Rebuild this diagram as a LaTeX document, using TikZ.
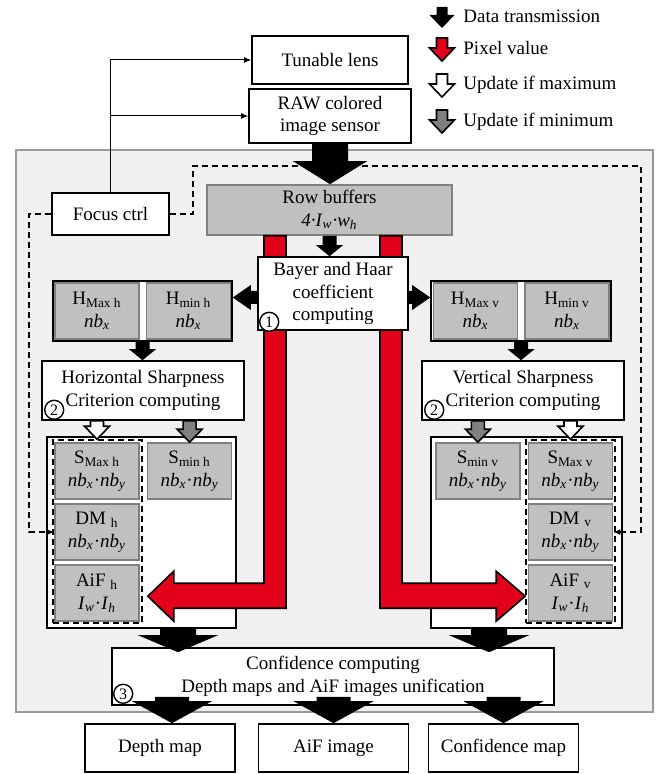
\documentclass[tikz,border=0pt]{standalone}
\usepackage{fontspec}
\setmainfont{Liberation Serif}
\usetikzlibrary{positioning,calc,arrows.meta}

\definecolor{panelgray}{RGB}{240,240,240}
\definecolor{memgray}{RGB}{192,192,192}
\definecolor{memborder}{RGB}{128,128,128}
\definecolor{pixelred}{RGB}{226,0,26}
\definecolor{mingray}{RGB}{128,128,128}

\newcommand{\nbx}{\textit{nb}\textsubscript{\textit{x}}}
\newcommand{\nby}{\textit{nb}\textsubscript{\textit{y}}}
% block arrows: style, from, to, stem half width, head half width, head length
\newcommand{\fatdown}[6]{%
  \path[#1] let \p1=(#2), \p2=(#3) in
    (\x1-#4,\y1) -- (\x1-#4,\y2+#6) -- (\x1-#5,\y2+#6) -- (\x1,\y2) --
    (\x1+#5,\y2+#6) -- (\x1+#4,\y2+#6) -- (\x1+#4,\y1) -- cycle;}
\newcommand{\fatleft}[6]{%
  \path[#1] let \p1=(#2), \p2=(#3) in
    (\x1,\y1-#4) -- (\x2+#6,\y1-#4) -- (\x2+#6,\y1-#5) -- (\x2,\y1) --
    (\x2+#6,\y1+#5) -- (\x2+#6,\y1+#4) -- (\x1,\y1+#4) -- cycle;}
\newcommand{\fatright}[6]{%
  \path[#1] let \p1=(#2), \p2=(#3) in
    (\x1,\y1-#4) -- (\x2-#6,\y1-#4) -- (\x2-#6,\y1-#5) -- (\x2,\y1) --
    (\x2-#6,\y1+#5) -- (\x2-#6,\y1+#4) -- (\x1,\y1+#4) -- cycle;}

\begin{document}
\begin{tikzpicture}[x=0.5pt, y=-0.5pt,
        blocknode/.style={rectangle, draw, fill=white, line width=0.8pt, align=center, inner sep=1pt, font=\fontsize{9.5}{11.25}\selectfont},
        memnode/.style={rectangle, draw=memborder, fill=memgray, line width=0.8pt, align=center, inner sep=0pt, minimum width=42pt, minimum height=28pt, font=\fontsize{9.5}{11.25}\selectfont},
        groupnode/.style={rectangle, draw, fill=white, line width=0.8pt, inner sep=0pt},
        dashnode/.style={rectangle, draw, dash pattern=on 3pt off 2pt, line width=0.8pt, inner sep=0pt, minimum width=44.5pt, minimum height=91.5pt},
        numnode/.style={circle, draw, line width=0.7pt, fill=white, inner sep=0pt, minimum size=9.5pt, font=\fontsize{8}{8}\selectfont},
        legendnode/.style={anchor=west, inner sep=0pt, font=\fontsize{9.5}{11.25}\selectfont},
        dataarrow/.style={fill=black},
        pixelarrow/.style={draw, fill=pixelred, line width=0.8pt},
        maxarrow/.style={draw, fill=white, line width=0.8pt},
        minarrow/.style={draw, fill=mingray, line width=0.8pt},
        ctrlline/.style={draw, line width=0.5pt, -{Latex[length=3.5pt,width=3pt]}},
        feedbackline/.style={draw, line width=0.8pt, dash pattern=on 3pt off 2pt, -{Latex[length=3.5pt,width=3pt]}},
        ]
        \useasboundingbox (0,0) rectangle (664,774);
        \draw[draw=gray!80, line width=0.6pt, fill=panelgray] (16,150) rectangle (653,712);

        %Nodes
        \node[blocknode, minimum width=78pt, minimum height=24pt] (lens) at (330,60) {Tunable lens};
        \node[blocknode, minimum width=81pt, minimum height=27pt] (sensor) at (330,116) {RAW colored\\image sensor};
        \node[blocknode, minimum width=58.5pt, minimum height=21pt] (focus) at (110.5,214) {Focus ctrl};
        \node[memnode, minimum width=122.5pt, minimum height=25pt] (rowbuf) at (329.5,210) {Row buffers\\\textit{4·I}\textsubscript{\textit{w}}\textit{·w}\textsubscript{\textit{h}}};

        \node[groupnode, minimum width=89.5pt, minimum height=30pt] (hleftgrp) at (142.5,311) {};
        \node[memnode] (hmaxh) at (97,311) {H\textsubscript{Max h}\\\nbx};
        \node[memnode] (hminh) [right=3pt of hmaxh] {H\textsubscript{min h}\\\nbx};
        \node[groupnode, minimum width=90pt, minimum height=30pt] (hrightgrp) at (521,311) {};
        \node[memnode] (hmaxv) at (475.5,311) {H\textsubscript{Max v}\\\nbx};
        \node[memnode] (hminv) [right=3pt of hmaxv] {H\textsubscript{min v}\\\nbx};

        \node[blocknode, minimum width=101pt, minimum height=29.5pt] (hsharp) at (143,390.5) {Horizontal Sharpness\\Criterion computing};
        \node[blocknode, minimum width=101pt, minimum height=29.5pt] (vsharp) at (523,390.5) {Vertical Sharpness\\Criterion computing};

        \node[groupnode, minimum width=94.5pt, minimum height=95.5pt] (sleftgrp) at (141.5,532.5) {};
        \node[dashnode] (hgroup) at (97.5,531.5) {};
        \node[memnode] (smaxh) at (97,471) {S\textsubscript{Max h}\\{\nbx}·{\nby}};
        \node[memnode] (dmh) [below=1.75pt of smaxh] {DM \textsubscript{h}\\{\nbx}·{\nby}};
        \node[memnode] (aifh) [below=1.75pt of dmh] {AiF \textsubscript{h}\\\textit{I}\textsubscript{\textit{w}}·\textit{I}\textsubscript{\textit{h}}};
        \node[memnode] (sminh) [right=3.5pt of smaxh] {S\textsubscript{min h}\\{\nbx}·{\nby}};

        \node[groupnode, minimum width=95.5pt, minimum height=95.5pt] (srightgrp) at (526.5,532.5) {};
        \node[dashnode] (vgroup) at (570.5,531.5) {};
        \node[memnode] (smaxv) at (570.5,471) {S\textsubscript{Max v}\\{\nbx}·{\nby}};
        \node[memnode] (dmv) [below=1.75pt of smaxv] {DM \textsubscript{v}\\{\nbx}·{\nby}};
        \node[memnode] (aifv) [below=1.75pt of dmv] {AiF \textsubscript{v}\\\textit{I}\textsubscript{\textit{w}}·\textit{I}\textsubscript{\textit{h}}};
        \node[memnode] (sminv) [left=3.5pt of smaxv] {S\textsubscript{min v}\\{\nbx}·{\nby}};

        \node[blocknode, minimum width=221pt, minimum height=28.5pt] (conf) at (333,676.5) {Confidence computing\\Depth maps and AiF images unification};
        \node[blocknode, minimum width=75pt, minimum height=24pt] (depth) at (160,748) {Depth map};
        \node[blocknode, minimum width=75pt, minimum height=24pt] (aifimg) at (333.5,748) {AiF image};
        \node[blocknode, minimum width=75pt, minimum height=24pt] (confmap) at (503.5,748) {Confidence map};

        %Control lines
        \draw[ctrlline] (focus.north) |- (lens.west);
        \draw[ctrlline] (focus.north) |- (sensor.west);
        \draw[feedbackline] (focus.east) -- ++(23,0) |- (641,166) |- (dmv.east);
        \draw[feedbackline] (focus.west) -- ++(-22,0) |- (dmh.west);

        %Pixel paths
        \path[pixelarrow] let \p1=(rowbuf.south), \p2=(aifh.east) in
            (\x1-32.75pt,\y1) -- (\x1-21.75pt,\y1) -- (\x1-21.75pt,\y2-7.5pt) -- (\x2+17pt,\y2-7.5pt) -- (\x2+17pt,\y2-14pt)
            -- (\x2+4pt,\y2-1.5pt) -- (\x2+17pt,\y2+11pt) -- (\x2+17pt,\y2+5pt) -- (\x1-32.75pt,\y2+5pt) -- cycle;
        \path[pixelarrow] let \p1=(rowbuf.south), \p2=(aifv.west) in
            (\x1+36.25pt,\y1) -- (\x1+25.25pt,\y1) -- (\x1+25.25pt,\y2-7.5pt) -- (\x2-15.75pt,\y2-7.5pt) -- (\x2-15.75pt,\y2-14pt)
            -- (\x2-1.25pt,\y2-1.5pt) -- (\x2-15.75pt,\y2+11pt) -- (\x2-15.75pt,\y2+5pt) -- (\x1+36.25pt,\y2+5pt) -- cycle;

        \node[blocknode, minimum width=75pt, minimum height=36.5pt] (bayer) at (333,293.5) {Bayer and Haar\\coefficient\\computing};

        \node[numnode] (num1) at ([shift={(6pt,4.5pt)}]bayer.south west) {1};
        \node[numnode] (num2l) at ([shift={(6.5pt,5.5pt)}]hsharp.south west) {2};
        \node[numnode] (num2r) at ([shift={(6.5pt,5.5pt)}]vsharp.south west) {2};
        \node[numnode] (num3) at ([shift={(6pt,6pt)}]conf.south west) {3};

        %Data arrows
        \fatdown{dataarrow}{sensor.south}{sensor.south |- rowbuf.north}{9pt}{18.5pt}{11.5pt}
        \fatdown{dataarrow}{rowbuf.south}{rowbuf.south |- bayer.north}{3.5pt}{6.75pt}{5.5pt}
        \fatleft{dataarrow}{[yshift=-2pt]bayer.west}{hleftgrp.east}{3.25pt}{6.25pt}{9pt}
        \fatright{dataarrow}{[yshift=-2pt]bayer.east}{hrightgrp.west}{3.25pt}{6.25pt}{9pt}
        \fatdown{dataarrow}{hleftgrp.south}{hleftgrp.south |- hsharp.north}{3.5pt}{6.75pt}{5.5pt}
        \fatdown{dataarrow}{hrightgrp.south}{hrightgrp.south |- vsharp.north}{3.5pt}{6.75pt}{5.5pt}
        \fatdown{maxarrow}{smaxh.north |- hsharp.south}{smaxh.north |- hgroup.north}{3.25pt}{6.25pt}{6.5pt}
        \fatdown{minarrow}{sminh.north |- hsharp.south}{sminh.north}{3.25pt}{6.25pt}{6.5pt}
        \fatdown{minarrow}{sminv.north |- vsharp.south}{sminv.north}{3.25pt}{6.25pt}{6.5pt}
        \fatdown{maxarrow}{smaxv.north |- vsharp.south}{smaxv.north |- vgroup.north}{3.25pt}{6.25pt}{6.5pt}

        \coordinate (confinl) at ([xshift=-77.5pt,yshift=-2.5pt]conf.north);
        \coordinate (confinr) at ([xshift=78pt,yshift=-2.5pt]conf.north);
        \fatdown{dataarrow}{confinl |- sleftgrp.south}{confinl}{9pt}{20pt}{8.5pt}
        \fatdown{dataarrow}{confinr |- srightgrp.south}{confinr}{9pt}{20pt}{8.5pt}

        \coordinate (confout) at ([yshift=4.5pt]conf.south);
        \coordinate (depthin) at ([xshift=6pt]depth.north);
        \fatdown{dataarrow}{depthin |- confout}{depthin}{8.5pt}{20pt}{11pt}
        \fatdown{dataarrow}{aifimg.north |- confout}{aifimg.north}{8.5pt}{20pt}{11pt}
        \fatdown{dataarrow}{confmap.north |- confout}{confmap.north}{8.5pt}{20pt}{11pt}

        %Legend
        \coordinate (key1a) at (442,7);   \coordinate (key1b) at (442,28);
        \coordinate (key2a) at (442,38);  \coordinate (key2b) at (442,61);
        \coordinate (key3a) at (442,74);  \coordinate (key3b) at (442,97);
        \coordinate (key4a) at (442,110); \coordinate (key4b) at (442,133);
        \fatdown{dataarrow}{key1a}{key1b}{2.75pt}{6.25pt}{6.5pt}
        \fatdown{pixelarrow}{key2a}{key2b}{2.75pt}{6.25pt}{6.5pt}
        \fatdown{maxarrow}{key3a}{key3b}{2.75pt}{6.25pt}{6.5pt}
        \fatdown{minarrow}{key4a}{key4b}{2.75pt}{6.25pt}{6.5pt}
        \node[legendnode] (key1) at (463,16) {Data transmission};
        \node[legendnode] (key2) at (463,48) {Pixel value};
        \node[legendnode] (key3) at (463,85) {Update if maximum};
        \node[legendnode] (key4) at (463,122) {Update if minimum};
    \end{tikzpicture}
\end{document}
